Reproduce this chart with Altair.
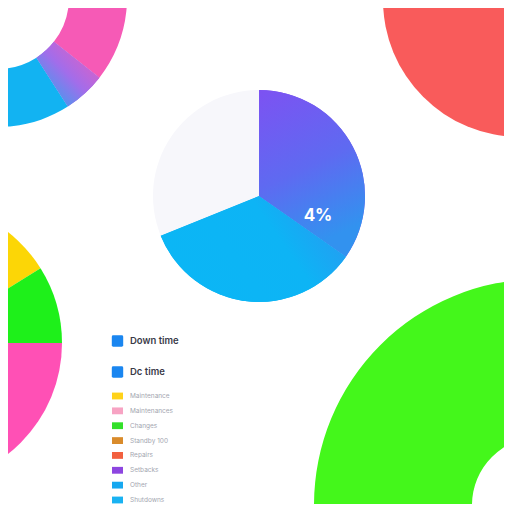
import altair as alt
import pandas as pd

# ---------------- data ----------------
# central pie (percent of full turn, clockwise from 12 o'clock)
main_names = ["Down time", "Dc time", "Other"]
main_values = [34.7, 34.2, 31.1]
main_colors = ["#7B55F0", "#0DB4F5", "#F7F7FB"]
main_label = "4%"

# top-left donut
tl_names = ["Pink", "Blend", "Blue"]
tl_values = [35.6, 5.3, 59.1]
tl_colors = ["#F65AB6", "#A86BE6", "#12B3F2"]

# left pie
lp_names = ["Yellow", "Green", "Pink", "Rest"]
lp_values = [16.1, 8.9, 50.0, 25.0]
lp_colors = ["#FCD606", "#1EF01A", "#FF50B5", "#FF50B5"]

# top-right circle
tr_names = ["Red"]
tr_values = [100.0]
tr_colors = ["#F95B5B"]

# bottom-right ring
br_names = ["Green"]
br_values = [100.0]
br_colors = ["#44F71B"]

# legend
big_labels = ["Down time", "Dc time"]
big_colors = ["#1A86F0", "#1A86F0"]
small_labels = ["Maintenance", "Maintenances", "Changes", "Standby   100",
                "Repairs", "Setbacks", "Other", "Shutdowns"]
small_colors = ["#FFD21A", "#F7A3C3", "#33E02A", "#D98B2B",
                "#F2603F", "#8D45E0", "#16A8F0", "#19B2F2"]


def pie(names, values, colors, cx, cy, outer, inner=0, only=None, fill=None):
    df = pd.DataFrame({"name": names, "value": values, "k": list(range(len(names)))})
    base = alt.Chart(df).transform_stack(
        stack="value", groupby=[], as_=["start", "end"], sort=[alt.SortField("k")]
    )
    if only is not None:
        base = base.transform_filter(alt.datum.name == only)
    enc = dict(
        theta=alt.Theta("start:Q", scale=alt.Scale(domain=[0, 100]), stack=None),
        theta2=alt.Theta2("end:Q"),
        x=alt.value(cx),
        y=alt.value(cy),
    )
    if fill is not None:
        return base.mark_arc(radius=outer, radius2=inner, color=fill, strokeWidth=0).encode(**enc)
    return base.mark_arc(radius=outer, radius2=inner, strokeWidth=0).encode(
        color=alt.Color("name:N", scale=alt.Scale(domain=names, range=colors), legend=None),
        **enc,
    )


def grad(stops, x1, y1, x2, y2):
    return alt.LinearGradient(
        gradient="linear",
        stops=[alt.GradientStop(color=c, offset=o) for o, c in stops],
        x1=x1, y1=y1, x2=x2, y2=y2,
    )


layers = []
# top-left donut
layers.append(pie(tl_names, tl_values, tl_colors, -10, -10, 129, 71))
layers.append(pie(tl_names, tl_values, tl_colors, -10, -10, 129, 71, only="Blend",
                  fill=grad([(0, "#F65AB6"), (0.5, "#A26DEA"), (1, "#12B3F2")], 1, 0, 0, 1)))
# top-right circle
layers.append(pie(tr_names, tr_values, tr_colors, 512, -8, 137))
# left pie
layers.append(pie(lp_names, lp_values, lp_colors, -87, 335, 141))
# bottom-right ring
layers.append(pie(br_names, br_values, br_colors, 532, 497, 226, 68))
# central pie
layers.append(pie(main_names, main_values, main_colors, 251, 188, 106))
layers.append(pie(main_names, main_values, main_colors, 251, 188, 106, only="Down time",
                  fill=grad([(0, "#7D52F2"), (0.55, "#5E6AF1"), (1, "#3292EF")], 0, 0, 0.3, 1)))
layers.append(pie(main_names, main_values, main_colors, 251, 188, 106, only="Dc time",
                  fill=grad([(0, "#2F93F0"), (0.45, "#0DB4F5"), (1, "#0BB6F5")], 1, 0, 0, 0.4)))

# label
layers.append(
    alt.Chart(pd.DataFrame({"t": [main_label]})).mark_text(
        fontSize=17, fontWeight="bold", color="white", font="Inter", align="center", baseline="middle"
    ).encode(text="t:N", x=alt.value(310), y=alt.value(208))
)

# legend
sq_path = "M -0.75 -1 L 0.75 -1 Q 1 -1 1 -0.75 L 1 0.75 Q 1 1 0.75 1 L -0.75 1 Q -1 1 -1 0.75 L -1 -0.75 Q -1 -1 -0.75 -1 Z"
rect_path = "M -1 -0.62 L 1 -0.62 L 1 0.62 L -1 0.62 Z"

big_df = pd.DataFrame({"label": big_labels})
small_df = pd.DataFrame({"label": small_labels})
big_y = alt.Y("label:N", scale=alt.Scale(domain=big_labels, range=[333, 364], padding=0), axis=None, sort=None)
small_y = alt.Y("label:N", scale=alt.Scale(domain=small_labels, range=[388, 492], padding=0), axis=None, sort=None)

layers.append(
    alt.Chart(big_df).mark_point(shape=sq_path, filled=True, size=130, opacity=1, strokeWidth=0).encode(
        x=alt.value(109.5), y=big_y,
        color=alt.Color("label:N", scale=alt.Scale(domain=big_labels, range=big_colors), legend=None),
    )
)
layers.append(
    alt.Chart(big_df).mark_text(align="left", baseline="middle", fontSize=9.5, fontWeight=600,
                                color="#3A3A48", font="Inter").encode(
        x=alt.value(122), y=big_y, text="label:N"
    )
)
layers.append(
    alt.Chart(small_df).mark_point(shape=rect_path, filled=True, size=121, opacity=1, strokeWidth=0).encode(
        x=alt.value(109.5), y=small_y,
        color=alt.Color("label:N", scale=alt.Scale(domain=small_labels, range=small_colors), legend=None),
    )
)
layers.append(
    alt.Chart(small_df).mark_text(align="left", baseline="middle", fontSize=6.5,
                                  color="#A3A6B0", font="Inter").encode(
        x=alt.value(122), y=small_y, text="label:N"
    )
)

chart = (
    alt.layer(*layers)
    .properties(width=496, height=496, padding=0, autosize="none", background="white")
    .resolve_scale(theta="independent", color="independent", y="independent")
    .configure_view(stroke=None)
)

chart.save("out.html", embed_options={"renderer": "svg", "actions": False})
